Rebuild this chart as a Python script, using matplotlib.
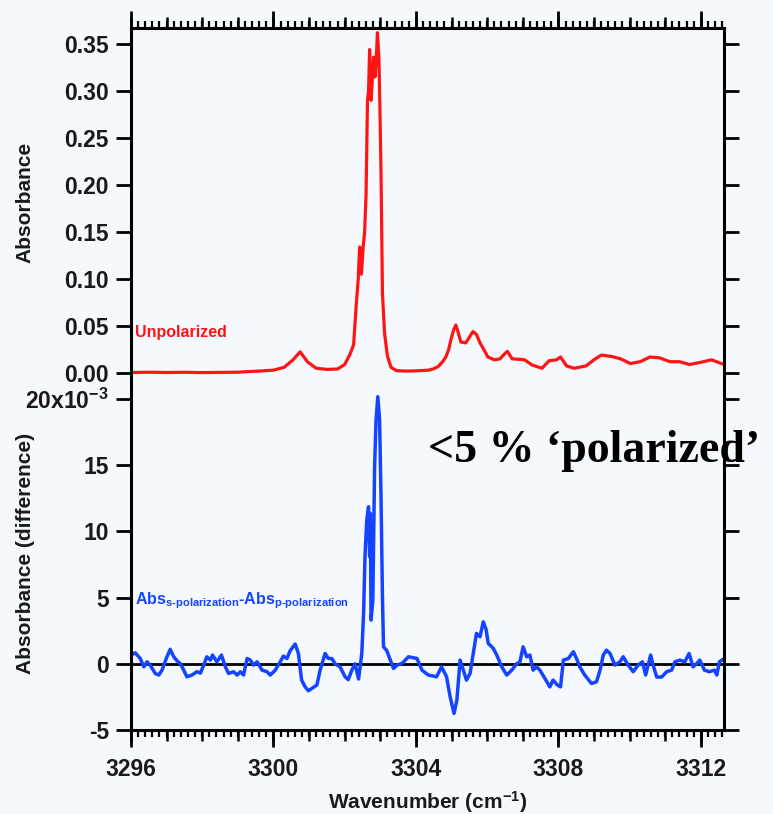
import matplotlib
matplotlib.use("Agg")
import matplotlib.pyplot as plt
from matplotlib.ticker import MultipleLocator, FuncFormatter, FixedLocator

# ---------------- data ----------------
red_wn = [3296.0, 3296.5, 3297.0, 3297.5, 3298.0, 3298.5, 3299.0, 3299.3, 3299.6, 3300.0,
          3300.3, 3300.55, 3300.75, 3300.95, 3301.2, 3301.5, 3301.8, 3302.0, 3302.15, 3302.25,
          3302.32, 3302.38, 3302.42, 3302.47, 3302.52, 3302.56, 3302.6, 3302.64, 3302.67, 3302.7,
          3302.74, 3302.78, 3302.81, 3302.85, 3302.88, 3302.92, 3302.96, 3302.99, 3303.02, 3303.06,
          3303.12, 3303.2, 3303.3, 3303.45, 3303.7, 3304.0, 3304.36, 3304.5, 3304.63, 3304.75,
          3304.84, 3304.92, 3304.98, 3305.06, 3305.12, 3305.18, 3305.26, 3305.4, 3305.5, 3305.6,
          3305.7, 3305.8, 3305.92, 3306.02, 3306.2, 3306.36, 3306.48, 3306.57, 3306.7, 3306.9,
          3307.05, 3307.26, 3307.54, 3307.74, 3307.95, 3308.06, 3308.23, 3308.44, 3308.78, 3309.0,
          3309.2, 3309.5, 3309.75, 3310.02, 3310.3, 3310.57, 3310.85, 3311.13, 3311.4, 3311.68,
          3311.96, 3312.3, 3312.65]
red_abs = [0.0005, 0.0008, 0.0005, 0.0007, 0.0004, 0.0006, 0.0008, 0.0015, 0.0020, 0.0030,
           0.0060, 0.0140, 0.0225, 0.0120, 0.0050, 0.0038, 0.0042, 0.0090, 0.0200, 0.0300,
           0.0700, 0.1000, 0.1340, 0.1050, 0.1350, 0.1500, 0.1900, 0.2900, 0.3000, 0.3440,
           0.2900, 0.3150, 0.3360, 0.3150, 0.3300, 0.3620, 0.3360, 0.2800, 0.2130, 0.0850,
           0.0420, 0.0180, 0.0060, 0.0025, 0.0020, 0.0022, 0.0030, 0.0045, 0.0070, 0.0120,
           0.0170, 0.0250, 0.0350, 0.0460, 0.0510, 0.0440, 0.0330, 0.0320, 0.0380, 0.0440,
           0.0410, 0.0320, 0.0240, 0.0170, 0.0140, 0.0150, 0.0200, 0.0230, 0.0150, 0.0145,
           0.0140, 0.0085, 0.0050, 0.0130, 0.0140, 0.0170, 0.0075, 0.0050, 0.0075, 0.0140,
           0.0190, 0.0175, 0.0150, 0.0100, 0.0120, 0.0170, 0.0160, 0.0120, 0.0120, 0.0090,
           0.0110, 0.0140, 0.0090]

blue_wn = [3296.0, 3296.12, 3296.26, 3296.36, 3296.45, 3296.54, 3296.68, 3296.78, 3296.87, 3297.01,
           3297.1, 3297.2, 3297.29, 3297.39, 3297.48, 3297.57, 3297.71, 3297.85, 3297.95, 3298.04,
           3298.13, 3298.23, 3298.29, 3298.41, 3298.54, 3298.65, 3298.74, 3298.88, 3298.98, 3299.07,
           3299.16, 3299.26, 3299.35, 3299.44, 3299.54, 3299.68, 3299.82, 3299.91, 3300.05, 3300.19,
           3300.28, 3300.38, 3300.47, 3300.61, 3300.7, 3300.79, 3300.89, 3300.98, 3301.08, 3301.22,
           3301.31, 3301.45, 3301.54, 3301.64, 3301.73, 3301.87, 3302.01, 3302.1, 3302.2, 3302.29,
           3302.39, 3302.48, 3302.53, 3302.57, 3302.62, 3302.67, 3302.7, 3302.72, 3302.74, 3302.79,
           3302.84, 3302.88, 3302.93, 3302.98, 3303.02, 3303.06, 3303.09, 3303.18, 3303.28, 3303.37,
           3303.47, 3303.61, 3303.79, 3304.03, 3304.17, 3304.35, 3304.58, 3304.72, 3304.86, 3304.96,
           3305.07, 3305.15, 3305.24, 3305.33, 3305.42, 3305.52, 3305.61, 3305.7, 3305.8, 3305.89,
           3305.97, 3306.03, 3306.17, 3306.27, 3306.41, 3306.55, 3306.69, 3306.83, 3306.92, 3307.01,
           3307.11, 3307.2, 3307.29, 3307.39, 3307.48, 3307.62, 3307.76, 3307.85, 3307.97, 3308.06,
           3308.14, 3308.28, 3308.42, 3308.51, 3308.6, 3308.74, 3308.93, 3309.07, 3309.17, 3309.26,
           3309.35, 3309.45, 3309.59, 3309.73, 3309.82, 3309.96, 3310.1, 3310.24, 3310.36, 3310.45,
           3310.59, 3310.66, 3310.76, 3310.9, 3311.04, 3311.18, 3311.27, 3311.41, 3311.55, 3311.67,
           3311.78, 3311.88, 3311.97, 3312.1, 3312.24, 3312.38, 3312.45, 3312.52, 3312.66]
blue_diff = [0.66, 0.83, 0.40, -0.23, 0.15, -0.10, -0.73, -0.85, -0.48, 0.53,
             1.09, 0.53, 0.23, 0.00, -0.48, -0.98, -0.85, -0.60, -0.70, -0.10,
             0.53, 0.28, 0.66, 0.15, 0.66, -0.23, -0.73, -0.60, -0.85, -0.60,
             -0.85, 0.40, 0.28, -0.10, 0.15, -0.48, -0.60, -0.85, -0.48, 0.15,
             0.58, 0.40, 1.00, 1.49, 0.78, -1.23, -1.74, -2.04, -1.86, -1.60,
             -0.48, 0.78, 0.40, 0.40, 0.00, -0.23, -0.98, -1.20, -0.48, 0.00,
             -1.15, 0.78, 3.80, 8.10, 10.85, 11.86, 8.10, 11.36, 3.30, 4.80,
             14.90, 18.40, 20.17, 18.40, 12.60, 5.06, 1.28, 1.00, 0.28, -0.35,
             -0.10, 0.03, 0.53, 0.40, -0.48, -0.85, -0.98, -0.23, -0.98, -2.49,
             -3.75, -2.74, 0.28, -0.48, -1.23, -0.73, 0.78, 2.30, 2.04, 3.17,
             2.60, 1.54, 1.17, 0.66, -0.23, -0.85, -0.48, 0.00, 0.15, 1.28,
             0.53, 0.66, -0.48, -0.23, -0.48, -1.10, -1.74, -1.23, -1.60, -1.74,
             0.28, 0.40, 0.91, 0.40, -0.23, -0.85, -1.49, -1.36, -0.48, 0.66,
             1.03, 0.78, -0.10, 0.15, 0.53, -0.10, -0.60, -0.10, 0.15, -0.85,
             0.66, -0.10, -1.00, -1.00, -0.60, -0.48, 0.15, 0.28, 0.15, 0.78,
             -0.23, 0.00, 0.28, -0.48, -0.60, -0.48, -0.85, 0.15, 0.40]

top_ticks = [0.00, 0.05, 0.10, 0.15, 0.20, 0.25, 0.30, 0.35]
bottom_ticks = [-5, 0, 5, 10, 15, 20]
x_ticks = [3296, 3300, 3304, 3308, 3312]

# ---------------- style ----------------
BG = '#f5f8fc'
RED = '#ff1414'
BLUE = '#1444ff'
TXT = '#1a1a1a'
plt.rcParams['font.family'] = ['Liberation Sans', 'DejaVu Sans']
plt.rcParams['font.weight'] = 'bold'
plt.rcParams['axes.labelweight'] = 'bold'
plt.rcParams['mathtext.fontset'] = 'custom'
plt.rcParams['mathtext.rm'] = 'Liberation Sans:bold'
plt.rcParams['mathtext.it'] = 'Liberation Sans:bold'
plt.rcParams['mathtext.bf'] = 'Liberation Sans:bold'

W, H = 773, 814
fig = plt.figure(figsize=(W / 100, H / 100), dpi=100, facecolor=BG)

left = 131 / W
right = 724 / W
y_top = 28
y_mid = 377
y_bot = 730
ax1 = fig.add_axes([left, 1 - y_mid / H, right - left, (y_mid - y_top) / H])
ax2 = fig.add_axes([left, 1 - y_bot / H, right - left, (y_bot - y_mid) / H], sharex=ax1)

for ax in (ax1, ax2):
    ax.set_facecolor(BG)
    for s in ax.spines.values():
        s.set_linewidth(2.2)
    ax.tick_params(axis='y', which='major', direction='out', length=11, width=2.0,
                   labelsize=16.5, pad=5, left=True, right=True, labelcolor=TXT)

# top panel
ax1.plot(red_wn, red_abs, color=RED, lw=2.3)
ax1.set_xlim(3296, 3312.65)
ax1.set_ylim(-0.0043, 0.367)
ax1.spines['bottom'].set_visible(False)
ax1.yaxis.set_major_locator(FixedLocator(top_ticks))
ax1.yaxis.set_major_formatter(FuncFormatter(lambda v, p: f"{v:.2f}"))
ax1.xaxis.set_major_locator(FixedLocator(x_ticks))
ax1.xaxis.set_minor_locator(MultipleLocator(0.2))
ax1.tick_params(axis='x', which='both', bottom=False, labelbottom=False, top=True,
                labeltop=False, direction='out')
ax1.tick_params(axis='x', which='major', length=12, width=2.0)
ax1.tick_params(axis='x', which='minor', length=5, width=1.6)
sec1 = ax1.secondary_xaxis('top')
sec1.spines['top'].set_visible(False)
sec1.xaxis.set_major_locator(MultipleLocator(1))
sec1.tick_params(axis='x', which='major', length=8, width=1.8, labeltop=False)
sec1.xaxis.set_minor_locator(plt.NullLocator())
ax1.set_ylabel('Absorbance', fontsize=15, labelpad=10, color=TXT, fontweight='bold')
ax1.text(3296.12, 0.0430, 'Unpolarized', color=RED, fontsize=11.5,
         va='center', ha='left')

# bottom panel
ax2.axhline(0, color='black', lw=2.0, zorder=1)
ax2.plot(blue_wn, blue_diff, color=BLUE, lw=2.5, zorder=2)
ax2.set_ylim(-5, 21.66)
ax2.spines['top'].set_visible(False)
ax2.yaxis.set_major_locator(FixedLocator(bottom_ticks))
ax2.yaxis.set_major_formatter(FuncFormatter(
    lambda v, p: r'20x10$^{\mathregular{-3}}$' if abs(v - 20) < 1e-6 else f"{v:.0f}"))
ax2.xaxis.set_major_locator(FixedLocator(x_ticks))
ax2.xaxis.set_minor_locator(MultipleLocator(0.2))
ax2.tick_params(axis='x', which='both', top=False, direction='out')
ax2.tick_params(axis='x', which='major', length=12, width=2.0, labelsize=16.5, pad=8,
                labelcolor=TXT)
ax2.tick_params(axis='x', which='minor', length=5, width=1.6)
sec2 = ax2.secondary_xaxis('bottom')
sec2.spines['bottom'].set_visible(False)
sec2.xaxis.set_major_locator(MultipleLocator(1))
sec2.tick_params(axis='x', which='major', length=8, width=1.8, labelbottom=False)
sec2.xaxis.set_minor_locator(plt.NullLocator())
ax2.set_ylabel('Absorbance (difference)', fontsize=15, labelpad=10, color=TXT,
               fontweight='bold')
ax2.set_xlabel(r'Wavenumber (cm$^{\mathregular{-1}}$)', fontsize=15, labelpad=6, color=TXT,
               fontweight='bold')
ax2.text(3296.12, 4.8,
         r'Abs$_{\mathregular{s\text{-}polarization}}$-Abs$_{\mathregular{p\text{-}polarization}}$',
         color=BLUE, fontsize=11.5, va='center', ha='left')

fig.text(428 / W, 1 - 462 / H, '<5 % \u2018polarized\u2019', fontsize=33, fontweight='bold',
         family=['Liberation Serif', 'DejaVu Serif'], color='black', ha='left', va='baseline')

ax1.yaxis.set_label_coords(-0.162, 0.5)
ax2.yaxis.set_label_coords(-0.162, 0.5)

fig.savefig('out.png', dpi=100, facecolor=BG)
